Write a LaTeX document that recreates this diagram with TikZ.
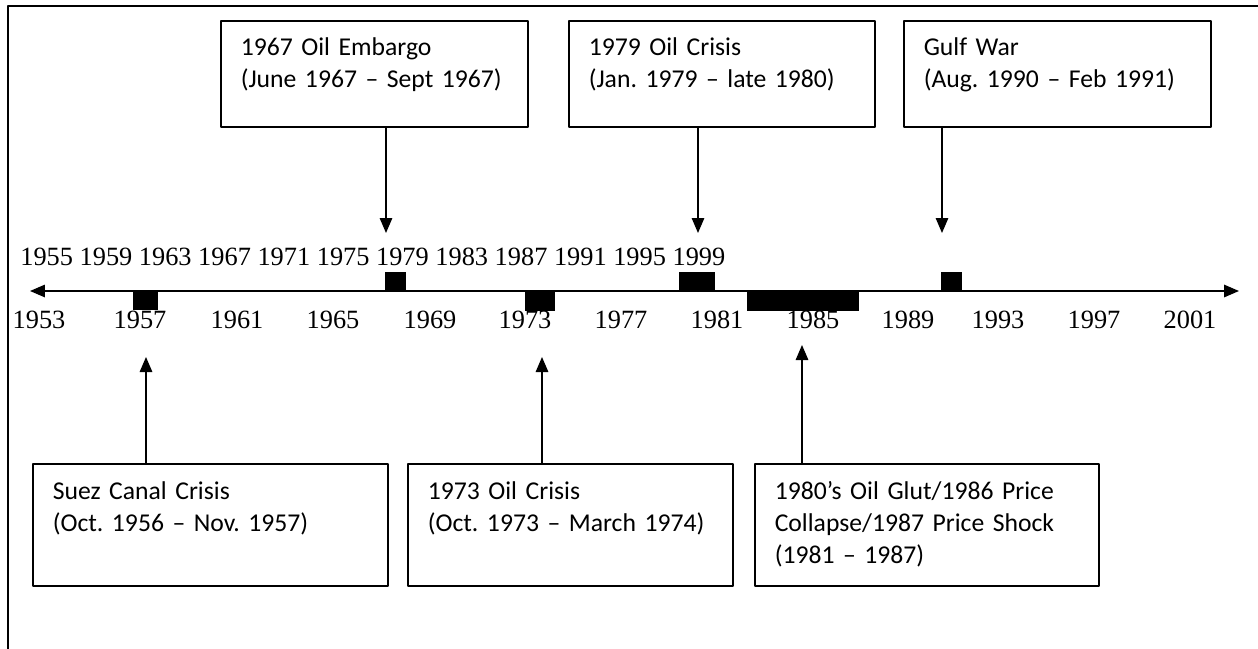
\documentclass[tikz,border=0pt]{standalone}
\usepackage{fontspec}
\setmainfont{Liberation Serif}
\newfontfamily\evfont{Carlito}
\usetikzlibrary{arrows.meta,calc}
\usetikzlibrary{positioning}

\begin{document}
\begin{tikzpicture}[x=0.02cm,y=-0.02cm,>={Triangle[length=0.3cm,width=0.25cm]},line join=round,
  evbox/.style={draw,line width=0.9pt,anchor=north west,align=left,inner xsep=0.4cm,inner ysep=0.26cm,
    font=\fontsize{14.6}{18.2}\evfont\frenchspacing},
  topbox/.style={evbox,text height=0.44cm,text depth=1.16cm},
  lowbox/.style={evbox,text height=0.46cm,text depth=1.46cm},
  year/.style={font=\fontsize{15}{18}\selectfont,inner sep=0pt},
  evarrow/.style={->,line width=0.8pt}]
\useasboundingbox (0,0) rectangle (1258,649);
% frame
\draw[line width=1.1pt] (8,649) -- (8,6) -- (1258,6);
% event boxes above
\node[topbox,text width=5.34cm] (embargo) at (220,20) {1967 Oil Embargo\\(June 1967 – Sept 1967)};
\node[topbox,text width=5.32cm] (crisis79) at (568,20) {1979 Oil Crisis\\(Jan. 1979 – late 1980)};
\node[topbox,text width=5.34cm] (gulf) at (903,20) {Gulf War\\(Aug. 1990 – Feb 1991)};
% event boxes below
\node[lowbox,text width=6.3cm] (suez) at (32,463) {Suez Canal Crisis\\(Oct. 1956 – Nov. 1957)};
\node[lowbox,text width=5.7cm] (crisis73) at (407,463) {1973 Oil Crisis\\(Oct. 1973 – March 1974)};
\node[lowbox,text width=6.08cm] (glut) at (754,463) {1980’s Oil Glut/1986 Price\\Collapse/1987 Price Shock\\(1981 – 1987)};
% time axis
\coordinate (axl) at (30,291); \coordinate (axr) at (1239,291);
\draw[<->,line width=0.9pt] (axl) -- (axr);
\node[year,anchor=base west] (upyears) at (20,265) {1955 1959 1963 1967 1971 1975 1979 1983 1987 1991 1995 1999};
\foreach \x/\yr in {39/1953,140/1957,237/1961,333/1965,430/1969,525/1973,621/1977,717/1981,813/1985,908/1989,998/1993,1094/1997,1190/2001}
  \node[year,anchor=base] (yr\yr) at (\x,328) {\yr};
% period markers
\fill (133,291) rectangle (158,310);
\fill (385,272) rectangle (406,291);
\fill (525,291) rectangle (555,311);
\fill (679,272) rectangle (715,291);
\fill (747,291) rectangle (859,311);
\fill (941,272) rectangle (962,291);
% pointers
\coordinate (p67) at (386,233); \coordinate (p79) at (698,233); \coordinate (p90) at (942,233);
\coordinate (p56) at (146,357); \coordinate (p73) at (542,357); \coordinate (p85) at (802,345);
\draw[evarrow] (embargo.south -| p67) -- (p67);
\draw[evarrow] (crisis79.south -| p79) -- (p79);
\draw[evarrow] (gulf.south -| p90) -- (p90);
\draw[evarrow] (suez.north -| p56) -- (p56);
\draw[evarrow] (crisis73.north -| p73) -- (p73);
\draw[evarrow] (glut.north -| p85) -- (p85);
\end{tikzpicture}
\end{document}
